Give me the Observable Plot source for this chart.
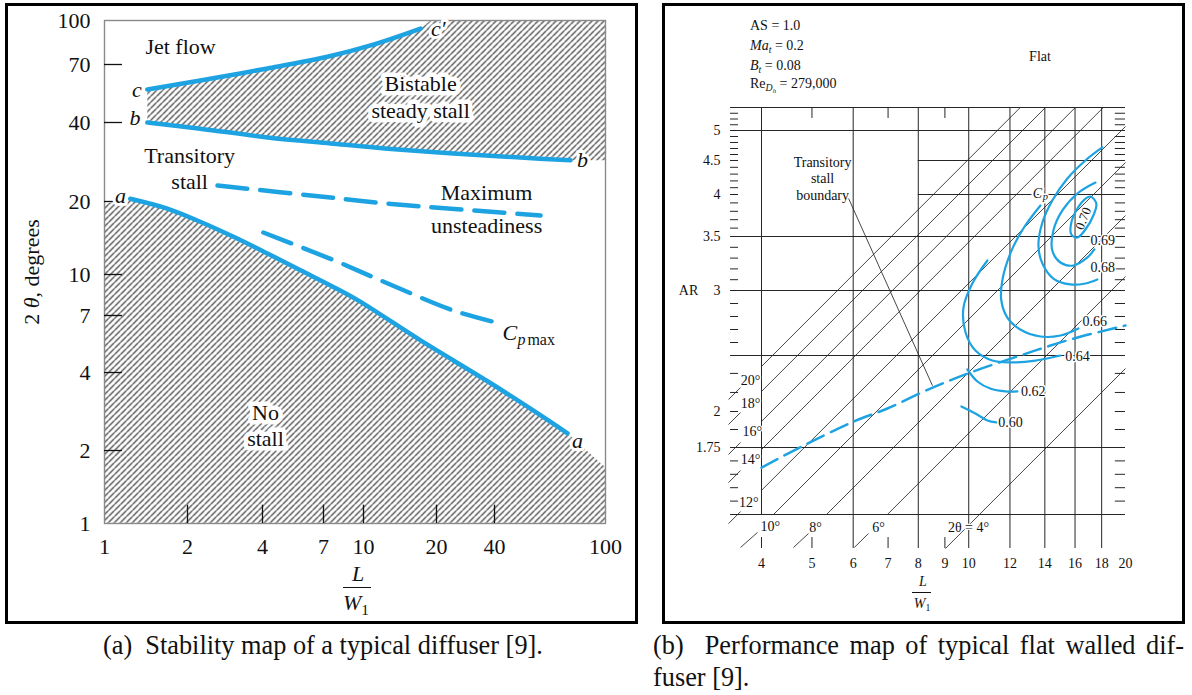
<!DOCTYPE html>
<html><head><meta charset="utf-8">
<script src="https://cdn.jsdelivr.net/npm/d3@7"></script>
<script src="https://cdn.jsdelivr.net/npm/@observablehq/plot@0.6"></script>
<style>
body{margin:0;background:#fff;width:1192px;height:695px;position:relative;overflow:hidden;font-family:"Liberation Serif",serif;color:#111;}
.box{position:absolute;border:3px solid #000;box-sizing:border-box;}
.abs{position:absolute;white-space:nowrap;line-height:1;}
.holder{position:absolute;top:0;}
sub{font-size:70%;vertical-align:-0.3em;line-height:0;}
</style></head><body>
<div class="box" style="left:5px;top:3px;width:633px;height:621px"></div>
<div class="box" style="left:662px;top:3px;width:523px;height:621px"></div>
<div id="pa" class="holder" style="left:0"></div>
<div id="pb" class="holder" style="left:660px"></div>

<div class="abs" style="left:32px;top:272px;font-size:22px;transform:translate(-50%,-50%) rotate(-90deg)">2 <i>θ</i>, degrees</div>
<div class="abs" style="left:358px;top:574px;font-size:22px;transform:translate(-50%,-50%)"><i>L</i></div>
<div class="abs" style="left:343px;top:587px;width:28px;height:1.3px;background:#111"></div>
<div class="abs" style="left:356px;top:603px;font-size:22px;transform:translate(-50%,-50%)"><i>W</i><sub>1</sub></div>

<div class="abs" style="left:750px;top:19px;font-size:14px">AS = 1.0</div>
<div class="abs" style="left:750px;top:39px;font-size:14px"><i>Ma</i><sub><i>t</i></sub> = 0.2</div>
<div class="abs" style="left:750px;top:59px;font-size:14px"><i>B</i><sub><i>t</i></sub> = 0.08</div>
<div class="abs" style="left:750px;top:77px;font-size:14px">Re<sub><i>D<sub>h</sub></i></sub> = 279,000</div>
<div class="abs" style="left:1040px;top:57px;font-size:14px;transform:translate(-50%,-50%)">Flat</div>
<div class="abs" style="left:923px;top:582px;font-size:14px;transform:translate(-50%,-50%)"><i>L</i></div>
<div class="abs" style="left:912px;top:592px;width:19px;height:1px;background:#111"></div>
<div class="abs" style="left:922px;top:604px;font-size:14px;transform:translate(-50%,-50%)"><i>W</i><sub>1</sub></div>

<div class="abs" style="left:103px;top:633px;font-size:26.3px">(a)&nbsp; Stability map of a typical diffuser [9].</div>
<div class="abs" style="left:653px;top:633px;font-size:26.3px;width:531px;text-align:justify;text-align-last:justify;white-space:normal">(b)&nbsp; Performance map of typical flat walled dif-</div>
<div class="abs" style="left:653px;top:665px;font-size:26.3px">fuser [9].</div>

<script>
// ---------- Panel (a) data: stability map ----------
const aTicksX = [1, 2, 4, 7, 10, 20, 40, 100];
const aTicksY = [1, 2, 4, 7, 10, 20, 40, 70, 100];
const aMinorX = [2, 4, 7, 10, 20, 40];
const aMinorY = [2, 4, 7, 10, 20, 40, 70];
const curveA_x = [1.24, 1.69, 2.25, 3.06, 4.19, 5.67, 7.45, 9.56, 17.2, 36.8, 55.2, 73.1];
const curveA_y = [20.5, 18.7, 16.5, 14.3, 12.2, 10.4, 9.09, 7.97, 5.48, 3.70, 2.85, 2.33];
const curveB_x = [1.43, 2.25, 4.19, 7.45, 12.6, 24.5, 49.6, 74.9];
const curveB_y = [40, 37.9, 35.1, 33.3, 31.8, 30.5, 29.4, 28.7];
const curveC_x = [1.43, 2.25, 4.19, 7.45, 10.7, 17.2];
const curveC_y = [55, 60, 67.4, 75.0, 81.7, 93.7];
const maxUnsteady_x = [2.64, 7.45, 12.6, 58.5];
const maxUnsteady_y = [23.0, 20.7, 19.6, 17.5];
const cpMax_x = [4.03, 7.45, 12.6, 24.5, 42];
const cpMax_y = [14.9, 11.6, 9.25, 7.31, 6.47];
const noStallLeft = [[1, 1], [1, 19.6]];
const noStallRight = [[100, 1.70], [100, 1]];
const bistableCorner = [[18.9, 100], [100, 100], [100, 28.7]];
const aRegionLabels = [
  {t: "Jet flow", x: 1.887, y: 80.4, box: false},
  {t: "Bistable", x: 17.2, y: 58.3, box: true},
  {t: "steady stall", x: 17.2, y: 44.9, box: true},
  {t: "Transitory", x: 2.04, y: 29.9, box: false},
  {t: "stall", x: 2.04, y: 23.8, box: false},
  {t: "Maximum", x: 36.4, y: 21.6, box: false},
  {t: "unsteadiness", x: 36.4, y: 15.9, box: false},
  {t: "No", x: 4.11, y: 2.80, box: true},
  {t: "stall", x: 4.11, y: 2.22, box: true}
];
const aLetters = [
  {t: "c", x: 1.31, y: 55.0}, {t: "b", x: 1.29, y: 41.6}, {t: "a", x: 1.143, y: 21.0},
  {t: "c′", x: 20.4, y: 93.7}, {t: "b", x: 82.7, y: 28.9}, {t: "a", x: 79.4, y: 2.17}
];
const cpMaxLabel = {x: 42.7, y: 5.87};

// ---------- Panel (b) data: performance map ----------
const bTicksX = [4, 5, 6, 7, 8, 9, 10, 12, 14, 16, 18, 20];
const bLabelsY = [5, 4.5, 4, 3.5, 3, 2, 1.75];
const bGridY = [5.4, 5, 3.5, 3, 2.5, 1.75, 1.5];
const bGridYPartial = [4.5, 4];
const bGridX = [6, 8, 10, 12, 14, 16, 18];
const bTopTicks = [5, 7, 9];
const bBottomTicks = [4, 5, 7, 9];
const bMinorY = [2.6, 2.7, 2.8, 2.9, 3.1, 3.2, 3.3, 3.4, 3.6, 3.7, 3.8, 3.9, 4.1, 4.2, 4.3, 4.4,
  4.6, 4.7, 4.8, 4.9, 5.1, 5.2, 5.3, 4.5, 4, 2, 2.34, 2.17, 1.875, 1.7, 1.65, 1.6, 1.55];
const angleDeg = [20, 18, 16, 14, 12, 10, 8, 6, 4];
const angleStartX = [4, 4, 4, 4, 4, 4.218, 5.332, 6.98, 9.02];
const angleStartAR = [2.402, 2.179, 1.931, 1.7425, 1.59, 1.5, 1.5, 1.5, 1.373];
const angleEndX = [12.56, 14.04, 16.02, 18.13, 20, 20, 20, 20, 20];
const angleEndAR = [5.4, 5.4, 5.4, 5.4, 5.07, 4.471, 3.75, 3.13, 2.384];
const stubX1 = [3.457, 3.457, 3.457, 3.457, 3.457, 3.646, 4.608, 6.03];
const stubX2 = [3.646, 3.646, 3.646, 3.646, 3.646, 3.93, 4.924, 6.42];
const stubY1 = [2.107, 1.910, 1.724, 1.619, 1.466, 1.377, 1.377, 1.377];
const stubY2 = [2.214, 1.993, 1.785, 1.664, 1.511, 1.433, 1.429, 1.429];
const angleLabelText = ["20°", "18°", "16°", "14°", "12°", "10°", "8°", "6°", "2θ = 4°"];
const angleLabelX = [3.81, 3.81, 3.84, 3.81, 3.78, 4.16, 5.08, 6.71, 9.99];
const angleLabelY = [2.277, 2.071, 1.861, 1.705, 1.545, 1.455, 1.452, 1.452, 1.452];
const tsb_x = [4, 4.82, 6.01, 6.98, 8.44, 10.08, 12.56, 15.67, 20];
const tsb_y = [1.675, 1.764, 1.93, 2.027, 2.205, 2.348, 2.5, 2.623, 2.731];
const leader = {x1: 5.88, y1: 3.952, x2: 8.52, y2: 2.23};
const cp070_x = [17.13, 17.58, 17.35, 16.75, 16.17, 15.74, 15.74, 16.17, 16.68];
const cp070_y = [3.976, 3.893, 3.75, 3.583, 3.491, 3.524, 3.667, 3.833, 3.94];
const cp069_x = [17.51, 16.17, 15.13, 14.54, 14.47, 15.0, 15.88, 16.9, 17.43];
const cp069_y = [4.176, 4.015, 3.81, 3.571, 3.37, 3.259, 3.231, 3.306, 3.38];
const cp068_x = [18.05, 16.75, 15.47, 14.47, 13.85, 13.61, 13.85, 14.54, 15.68, 16.75, 17.66];
const cp068_y = [4.717, 4.5, 4.235, 3.929, 3.667, 3.417, 3.25, 3.111, 3.056, 3.065, 3.102];
const cp066_x = [13.73, 12.73, 12.02, 11.60, 11.55, 11.86, 12.56, 13.73, 15.0, 16.24];
const cp066_y = [3.869, 3.595, 3.343, 3.093, 2.923, 2.792, 2.70, 2.646, 2.654, 2.708];
const cp064_x = [10.86, 10.16, 9.77, 9.86, 10.30, 11.10, 12.02, 13.43, 15.0];
const cp064_y = [3.278, 3.065, 2.869, 2.677, 2.538, 2.455, 2.438, 2.455, 2.5];
const cp062_x = [9.94, 10.39, 11.0, 11.76, 12.4];
const cp062_y = [2.375, 2.268, 2.205, 2.179, 2.179];
const cp060_x = [9.68, 10.30, 10.86, 11.3];
const cp060_y = [2.045, 1.986, 1.938, 1.924];
const cpLabels = [
  {t: "0.69", x: 17.13, y: 3.463}, {t: "0.68", x: 17.13, y: 3.213},
  {t: "0.66", x: 16.53, y: 2.762}, {t: "0.64", x: 15.33, y: 2.491},
  {t: "0.62", x: 12.6, y: 2.179}, {t: "0.60", x: 11.4, y: 1.924}
];
const cp070Label = {t: "0.70", x: 16.6, y: 3.714};
const cpTitle = {x: 13.55, y: 4.015};
const tsbLabel = [{t: "Transitory", y: 4.47}, {t: "stall", y: 4.235}, {t: "boundary", y: 3.988}];
const tsbLabelX = 5.24;

// ---------- helpers ----------
const BLUE = "#1da3e2";
const pts = (xs, ys) => xs.map((x, i) => ({x, y: ys[i]}));
const pairs = a => a.map(([x, y]) => ({x, y}));
const FONT = "'Liberation Serif', 'Times New Roman', serif";
function addHatch(svg, id, w) {
  const ns = "http://www.w3.org/2000/svg";
  const defs = document.createElementNS(ns, "defs");
  defs.innerHTML = `<pattern id="${id}" patternUnits="userSpaceOnUse" width="${w}" height="${w}">` +
    `<path d="M-1,${w + 1} L${w + 1},-1 M${-1 - w},${w + 1} L${w / 2},${-w / 2 - 1} M${w / 2},${w * 1.5 + 1} L${w + w + 1},-1" stroke="#141414" stroke-width="1.05" fill="none"/></pattern>`;
  svg.insertBefore(defs, svg.firstChild);
}

// ---------- Panel (a) ----------
const aCurveA = pts(curveA_x, curveA_y), aCurveB = pts(curveB_x, curveB_y), aCurveC = pts(curveC_x, curveC_y);
const noStallPoly = [...pairs(noStallLeft), ...aCurveA, ...pairs(noStallRight)];
const bistablePoly = [...aCurveC, ...pairs(bistableCorner), ...aCurveB.slice().reverse()];
const FA = 22;

const plotA = Plot.plot({
  width: 650, height: 630,
  marginLeft: 104, marginRight: 45, marginTop: 20, marginBottom: 107,
  style: {fontFamily: FONT, background: "transparent", overflow: "visible", color: "#111"},
  x: {type: "log", domain: aTicksX, range: [104, 187, 262, 323, 363, 436, 494, 605], axis: null},
  y: {type: "log", domain: aTicksY, range: [523, 450, 372, 315, 274, 201, 122, 64, 20], axis: null},
  marks: [
    Plot.line(noStallPoly, {x: "x", y: "y", fill: "url(#hatchA)", stroke: "none"}),
    Plot.line(bistablePoly, {x: "x", y: "y", fill: "url(#hatchA)", stroke: "none"}),
    Plot.frame({stroke: "#8a8a8a", strokeWidth: 1.4}),
    Plot.ruleY(aMinorY, {y: d => d, x1: 1, x2: 1.162, stroke: "#111", strokeWidth: 1.3}),
    Plot.ruleX(aMinorX, {x: d => d, y1: 1, y2: 1.19, stroke: "#111", strokeWidth: 1.3}),
    Plot.text(aTicksY, {x: 1, y: d => d, text: d => String(d), dx: -14, textAnchor: "end", fontSize: FA, fill: "#111"}),
    Plot.text(aTicksX, {x: d => d, y: 1, text: d => String(d), dy: 23, fontSize: FA, fill: "#111"}),
    Plot.line(aCurveA, {x: "x", y: "y", stroke: BLUE, strokeWidth: 4.5, curve: "catmull-rom"}),
    Plot.line(aCurveB, {x: "x", y: "y", stroke: BLUE, strokeWidth: 4.5, curve: "catmull-rom"}),
    Plot.line(aCurveC, {x: "x", y: "y", stroke: BLUE, strokeWidth: 4.5, curve: "catmull-rom"}),
    Plot.line(pts(maxUnsteady_x, maxUnsteady_y), {x: "x", y: "y", stroke: BLUE, strokeWidth: 4.5, strokeDasharray: "30,13", curve: "catmull-rom"}),
    Plot.line(pts(cpMax_x, cpMax_y), {x: "x", y: "y", stroke: BLUE, strokeWidth: 4.5, strokeDasharray: "30,13", curve: "catmull-rom"}),
    Plot.text(aRegionLabels.filter(d => d.box), {x: "x", y: "y", text: "t", fontSize: FA, fill: "#111", stroke: "white", strokeWidth: 9, strokeLinejoin: "round"}),
    Plot.text(aRegionLabels.filter(d => !d.box), {x: "x", y: "y", text: "t", fontSize: FA, fill: "#111"}),
    Plot.text(aLetters, {x: "x", y: "y", text: "t", fontSize: FA, fontStyle: "italic", fill: "#111", stroke: "white", strokeWidth: 6, strokeLinejoin: "round"}),
    Plot.text([cpMaxLabel], {x: "x", y: "y", text: () => "C", textAnchor: "start", fontSize: FA, fontStyle: "italic", fill: "#111"}),
    Plot.text([cpMaxLabel], {x: "x", y: "y", text: () => "p", textAnchor: "start", dx: 15, dy: 6, fontSize: 16, fontStyle: "italic", fill: "#111"}),
    Plot.text([cpMaxLabel], {x: "x", y: "y", text: () => "max", textAnchor: "start", dx: 25, dy: 6, fontSize: 16, fill: "#111"})
  ]
});
addHatch(plotA, "hatchA", 6);
document.getElementById("pa").appendChild(plotA);

// ---------- Panel (b) ----------
const angleLines = angleDeg.map((a, i) => ({a, x1: angleStartX[i], y1: angleStartAR[i], x2: angleEndX[i], y2: angleEndAR[i]}));
const stubs = stubX1.map((x, i) => ({x1: x, x2: stubX2[i], y1: stubY1[i], y2: stubY2[i]}));
const angleLabels = angleLabelText.map((t, i) => ({t, x: angleLabelX[i], y: angleLabelY[i]}));
const openContours = [
  ...pts(cp069_x, cp069_y).map(d => ({...d, lvl: "0.69"})),
  ...pts(cp068_x, cp068_y).map(d => ({...d, lvl: "0.68"})),
  ...pts(cp066_x, cp066_y).map(d => ({...d, lvl: "0.66"})),
  ...pts(cp064_x, cp064_y).map(d => ({...d, lvl: "0.64"})),
  ...pts(cp062_x, cp062_y).map(d => ({...d, lvl: "0.62"})),
  ...pts(cp060_x, cp060_y).map(d => ({...d, lvl: "0.60"}))
];
const LINE = "#262626";
const FB = 14;
const plotB = Plot.plot({
  width: 532, height: 630, margin: 0,
  style: {fontFamily: FONT, background: "transparent", overflow: "visible", color: "#111"},
  x: {type: "log", domain: [4, 20], range: [101, 465], axis: null},
  y: {type: "linear", domain: [1.5, 1.75, 2, 2.5, 3, 3.5, 4, 4.5, 5, 5.4], range: [514, 447, 411, 355, 290, 236, 194, 160, 130, 107], axis: null},
  marks: [
    Plot.ruleY(bGridY, {y: d => d, x1: 3.488, x2: 20, stroke: LINE, strokeWidth: 1}),
    Plot.ruleY(bGridYPartial, {y: d => d, x1: 8, x2: 20, stroke: LINE, strokeWidth: 1}),
    Plot.ruleX(bGridX, {x: d => d, y1: 1.373, y2: 5.4, stroke: LINE, strokeWidth: 1}),
    Plot.ruleX([4], {x: d => d, y1: 1.5, y2: 5.4, stroke: LINE, strokeWidth: 1}),
    Plot.ruleX(bTopTicks, {x: d => d, y1: 5.209, y2: 5.4, stroke: LINE, strokeWidth: 1}),
    Plot.ruleX(bBottomTicks, {x: d => d, y1: 1.373, y2: 1.414, stroke: LINE, strokeWidth: 1}),
    Plot.ruleY(bMinorY, {y: d => d, x1: 3.488, x2: 3.614, stroke: LINE, strokeWidth: 1}),
    Plot.ruleY(bMinorY, {y: d => d, x1: 19.12, x2: 20, stroke: LINE, strokeWidth: 1}),
    Plot.link(angleLines, {x1: "x1", y1: "y1", x2: "x2", y2: "y2", stroke: LINE, strokeWidth: 0.85}),
    Plot.link(stubs, {x1: "x1", y1: "y1", x2: "x2", y2: "y2", stroke: LINE, strokeWidth: 0.85}),
    Plot.link([leader], {x1: "x1", y1: "y1", x2: "x2", y2: "y2", stroke: LINE, strokeWidth: 0.85}),
    Plot.line(pts(tsb_x, tsb_y), {x: "x", y: "y", stroke: BLUE, strokeWidth: 2.5, strokeDasharray: "18,8", curve: "catmull-rom"}),
    Plot.line(openContours, {x: "x", y: "y", z: "lvl", stroke: BLUE, strokeWidth: 2.2, curve: "catmull-rom"}),
    Plot.line(pts(cp070_x, cp070_y), {x: "x", y: "y", stroke: BLUE, strokeWidth: 2.2, curve: "catmull-rom-closed"}),
    Plot.text(cpLabels, {x: "x", y: "y", text: "t", textAnchor: "start", fontSize: FB, fill: "#111", stroke: "white", strokeWidth: 3}),
    Plot.text([cp070Label], {x: "x", y: "y", text: "t", rotate: -68, fontSize: 13, fill: "#111"}),
    Plot.text([cpTitle], {x: "x", y: "y", text: () => "C", fontSize: FB, fontStyle: "italic", fill: "#111", stroke: "white", strokeWidth: 4}),
    Plot.text([cpTitle], {x: "x", y: "y", text: () => "p", dx: 8, dy: 3, fontSize: 10.5, fontStyle: "italic", fill: "#111", stroke: "white", strokeWidth: 3}),
    Plot.text(angleLabels, {x: "x", y: "y", text: "t", fontSize: FB, fill: "#111", stroke: "white", strokeWidth: 2.5}),
    Plot.text(tsbLabel, {x: tsbLabelX, y: "y", text: "t", fontSize: FB, fill: "#111"}),
    Plot.text(bLabelsY, {x: 4, y: d => d, text: d => String(d), dx: -41, textAnchor: "end", fontSize: FB, fill: "#111"}),
    Plot.text(["AR"], {x: 4, y: 3, text: d => d, dx: -73, fontSize: FB, fill: "#111"}),
    Plot.text(bTicksX, {x: d => d, y: 1.5, text: d => String(d), dy: 49, fontSize: FB, fill: "#111"})
  ]
});
document.getElementById("pb").appendChild(plotB);
</script>
</body></html>
